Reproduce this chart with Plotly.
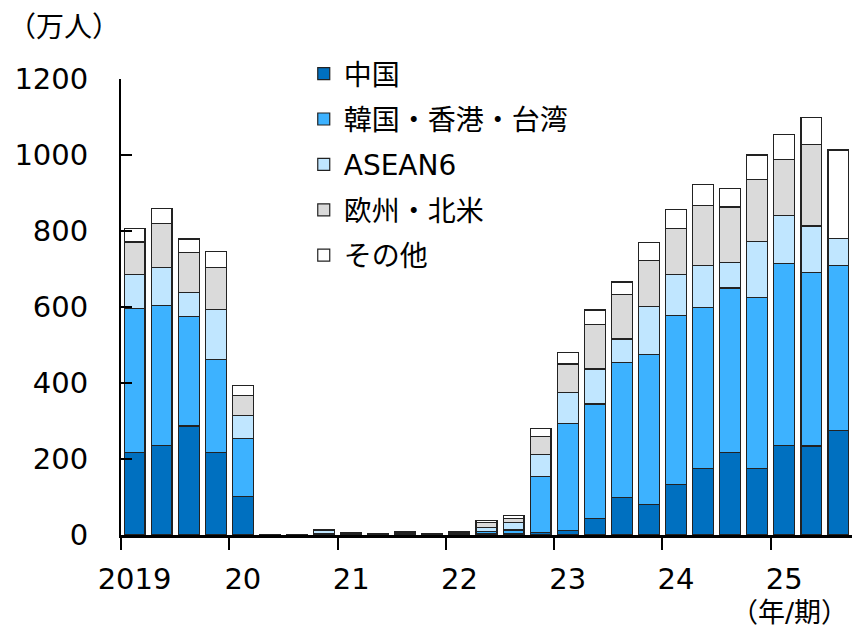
import plotly.graph_objects as go

quarters = ["2019Q1", "2019Q2", "2019Q3", "2019Q4",
            "2020Q1", "2020Q2", "2020Q3", "2020Q4",
            "2021Q1", "2021Q2", "2021Q3", "2021Q4",
            "2022Q1", "2022Q2", "2022Q3", "2022Q4",
            "2023Q1", "2023Q2", "2023Q3", "2023Q4",
            "2024Q1", "2024Q2", "2024Q3", "2024Q4",
            "2025Q1", "2025Q2", "2025Q3"]

china = [218, 236, 287, 218, 102, 0.1, 0.3, 3, 2, 1, 1, 1, 2, 5, 5, 7,
         12, 43, 99, 81, 132, 174, 217, 174, 236, 234, 276]
korea_hk_tw = [378, 367, 289, 244, 151, 0.1, 0.3, 2, 1, 0.5, 1, 0.5, 1, 5, 8, 146,
               282, 302, 355, 393, 445, 425, 433, 450, 478, 457, 433]
asean6 = [90, 100, 63, 132, 62, 0.1, 0.5, 6, 2, 0.8, 2, 1.5, 3, 10, 19, 58,
          82, 92, 62, 127, 108, 110, 68, 148, 127, 122, 72]
europe_na = [85, 117, 104, 111, 52, 0.1, 0.3, 1, 1, 0.4, 3, 0.5, 2, 13, 12, 49,
             74, 118, 116, 121, 121, 158, 145, 164, 148, 215, None]
others = [35, 40, 36, 41, 26, 0.1, 0.2, 2, 1, 0.3, 2, 0.5, 2, 6, 8, 21,
          31, 37, 34, 47, 51, 56, 48, 64, 65, 71, 232]

year_labels = ["2019", "20", "21", "22", "23", "24", "25"]

series = [
    ("中国", china, "#0070C0"),
    ("韓国・香港・台湾", korea_hk_tw, "#3DB2FF"),
    ("ASEAN6", asean6, "#C0E6FF"),
    ("欧州・北米", europe_na, "#DADADA"),
    ("その他", others, "#FFFFFF"),
]

FONT = "DejaVu Sans, Noto Sans CJK JP, sans-serif"
x = list(range(len(quarters)))
first_q = [i for i, q in enumerate(quarters) if q.endswith("Q1")]

fig = go.Figure()
for name, vals, color in series:
    fig.add_trace(go.Bar(
        x=x, y=vals, name=name, legendgroup=name,
        marker=dict(color=color, line=dict(color="#222222", width=1.2)),
        width=0.77,
    ))

fig.update_layout(
    barmode="stack",
    width=852, height=628,
    margin=dict(l=121, r=0, t=79, b=93, autoexpand=False),
    paper_bgcolor="white", plot_bgcolor="white",
    font=dict(family=FONT, size=29, color="black"),
    showlegend=True,
    legend=dict(
        x=0.25, y=1.066, xanchor="left", yanchor="top",
        traceorder="grouped", tracegroupgap=6,
        font=dict(family=FONT, size=28, color="black"),
        bgcolor="rgba(0,0,0,0)", itemwidth=30,
    ),
    xaxis=dict(
        range=[-0.5, len(quarters) - 0.5],
        tickvals=[i - 0.5 for i in first_q],
        ticktext=["" for _ in first_q],
        ticks="outside", ticklen=12, tickwidth=2, tickcolor="black",
        showline=True, linecolor="black", linewidth=2.5,
        showgrid=False, zeroline=False, automargin=False,
    ),
    xaxis2=dict(
        overlaying="x", anchor="y", side="bottom",
        range=[-0.5, len(quarters) - 0.5],
        tickvals=first_q, ticktext=year_labels,
        ticks="outside", ticklen=18, tickcolor="rgba(0,0,0,0)",
        showline=False, showgrid=False, zeroline=False, automargin=False,
        tickfont=dict(family=FONT, size=29, color="black"),
    ),
    yaxis=dict(
        range=[0, 1200], dtick=200,
        ticks="inside", ticklen=11, tickwidth=2, tickcolor="black",
        showline=True, linecolor="black", linewidth=2,
        showgrid=False, zeroline=False, automargin=False,
        tickfont=dict(family=FONT, size=29, color="black"),
        ticklabelstandoff=25,
    ),
    annotations=[
        dict(text="（万人）", xref="paper", yref="paper",
             x=-115 / 731, y=(535 - 27) / 456, xanchor="left", yanchor="middle",
             showarrow=False, font=dict(family=FONT, size=28, color="black")),
        dict(text="（年/期）", xref="paper", yref="paper",
             x=0.997, y=-(612 - 535) / 456, xanchor="right", yanchor="middle",
             showarrow=False, font=dict(family=FONT, size=27, color="black")),
    ],
)
# invisible trace to activate xaxis2
fig.add_trace(go.Scatter(x=[0], y=[0], xaxis="x2", mode="markers",
                         marker=dict(opacity=0), showlegend=False, hoverinfo="skip"))

fig.write_html("out.html", config={"displayModeBar": False},
               post_script="document.body.style.margin='0';document.body.style.overflow='hidden';")
